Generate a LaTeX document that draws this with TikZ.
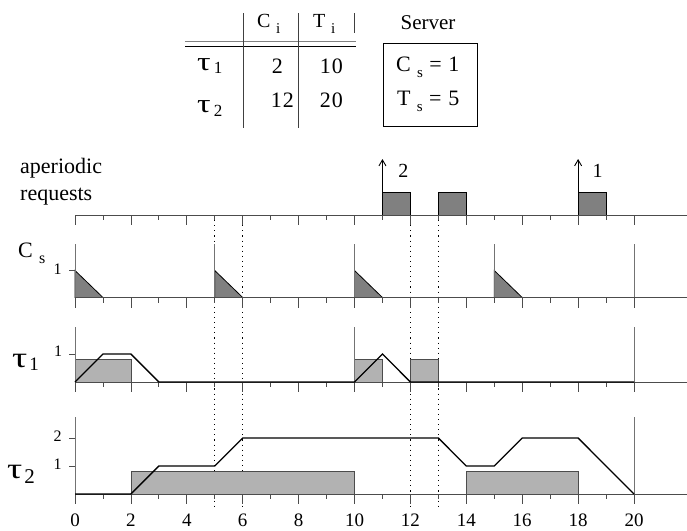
\documentclass[tikz,border=0pt]{standalone}
\usepackage{fontspec}
\setmainfont{Liberation Serif}
\usetikzlibrary{arrows.meta}
\newcommand\sbx[2][14]{\hspace{0.28em}\raisebox{-0.3em}{\fontsize{#1}{#1}\selectfont #2}}
\newcommand\tauglyph{\scalebox{1.3}[1]{τ}}
\newcommand\tlaxis{%
  \draw[axisline] (0,0) -- (21.9,0);
  \foreach \t in {0,2,...,20} {\draw[axisline] (\t,0) -- ++(0,-10pt);}
  \foreach \t in {1,3,...,19} {\draw[axisline] (\t,0) -- ++(0,-5pt);}
}
\begin{document}
\begin{tikzpicture}[x=1pt,y=-1pt,
  axisline/.style={draw=black!70, line width=0.8pt},
  gridv/.style={draw=black!55, line width=0.9pt},
  dotv/.style={draw=black, line width=0.9pt, dash pattern=on 1.1pt off 4pt},
  tbl/.style={draw=black!75, line width=0.8pt},
  txt/.style={inner sep=0pt, font=\fontsize{22}{24}\selectfont},
  hdr/.style={inner sep=0pt, font=\fontsize{20}{22}\selectfont},
  dig/.style={inner sep=0pt, font=\fontsize{22}{24}\selectfont},
  num/.style={inner sep=0pt, font=\fontsize{19}{20}\selectfont},
  ticklbl/.style={inner sep=0pt, font=\fontsize{16}{17}\selectfont},
  taulbl/.style={inner sep=0pt, font=\fontsize{29}{30}\selectfont},
  tautab/.style={inner sep=0pt, font=\fontsize{26}{27}\selectfont},
  curve/.style={draw=black, line width=1.3pt, line join=miter},
  lightbox/.style={fill=black!30, draw=black!70, line width=0.7pt},
  darkbox/.style={fill=black!50, draw=black, line width=0.8pt},
  reqarrow/.style={draw=black, line width=0.9pt, -{Straight Barb[length=6pt,width=7pt]}}]
\useasboundingbox (0,0) rectangle (687,530);
\fill[white] (0,0) rectangle (687,530);

% ---------------- table ----------------
\draw[black!50, line width=0.7pt] (185,41.7) -- (356,41.7);
\draw[black, line width=1pt] (185,46.7) -- (356,46.7);
\draw[tbl] (243,13) -- (243,128);
\draw[tbl] (298,13) -- (298,128);
\draw[tbl] (354,13) -- (354,33);
\node[hdr, anchor=base west] (hc) at (257,27) {C\sbx[15]{i}};
\node[hdr, anchor=base west] (ht) at (313,27) {T\sbx[15]{i}};
\node[tautab, anchor=base west] (r1) at (197,70) {\tauglyph\hspace{3pt}\raisebox{-3pt}{\fontsize{17}{17}\selectfont 1}};
\node[tautab, anchor=base west] (r2) at (197,112) {\tauglyph\hspace{3pt}\raisebox{-4pt}{\fontsize{17}{17}\selectfont 2}};
\node[dig, anchor=base east] (c1) at (283,73) {2};
\node[dig, anchor=base east] (t1) at (343,73) {1\hspace{1pt}0};
\node[dig, anchor=base east] (c2) at (294,107) {1\hspace{1pt}2};
\node[dig, anchor=base east] (t2) at (343,107) {2\hspace{1pt}0};

% ---------------- server ----------------
\node[hdr, font=\fontsize{21}{22}\selectfont] (srv) at (428,23) {Server};
\draw[black, line width=1pt] (383,43.3) rectangle (477,126.7);
\node[txt, anchor=base west] (cs) at (396,71) {C\sbx[15]{s}\hspace{0.3em}=\hspace{0.3em}1};
\node[txt, anchor=base west] (ts) at (397,105) {T\sbx[15]{s}\hspace{0.3em}=\hspace{0.3em}5};

% ---------------- left labels ----------------
\node[txt, anchor=west] (lap) at (20,168) {aperiodic};
\node[txt, anchor=west] (lrq) at (20,197) {requests};
\node[txt, anchor=base west] (lcs) at (18,257) {C\sbx[16]{s}};
\node[taulbl, anchor=base west] (lt1) at (12,367) {\tauglyph\hspace{2pt}\raisebox{-3pt}{\fontsize{19}{19}\selectfont 1}};
\node[taulbl, anchor=base west] (lt2) at (7,478) {\tauglyph\hspace{2pt}\raisebox{-5pt}{\fontsize{21}{21}\selectfont 2}};

% ---------------- dotted verticals ----------------
\foreach \t in {5,6,12,13} {\draw[dotv] (75+27.95*\t,215) -- (75+27.95*\t,506);}

% ---------------- aperiodic requests ----------------
\begin{scope}[shift={(75,215)}, x=27.95pt, y=28pt]
  \draw[darkbox] (11,0) rectangle (12,0.8);
  \draw[darkbox] (13,0) rectangle (14,0.8);
  \draw[darkbox] (18,0) rectangle (19,0.8);
  \tlaxis
  \coordinate (a2s) at (11,0); \coordinate (a2e) at (11,2);
  \coordinate (a1s) at (18,0); \coordinate (a1e) at (18,2);
  \draw[reqarrow] (a2s) -- (a2e);
  \draw[reqarrow] (a1s) -- (a1e);
  \node[txt, font=\fontsize{20}{22}\selectfont] (n2) at (11.75,1.57) {2};
  \node[txt, font=\fontsize{20}{22}\selectfont] (n1) at (18.7,1.57) {1};
\end{scope}

% ---------------- server capacity ----------------
\begin{scope}[shift={(75,297.5)}, x=27.95pt, y=27pt]
  \foreach \t in {0,5,10,15} {\draw[darkbox] (\t,0) -- (\t,1) -- (\t+1,0) -- cycle;}
  \foreach \t in {0,5,10,15,20} {\draw[gridv] (\t,0) -- (\t,2);}
  \tlaxis
  \draw[axisline] (-0.2,1) -- (0,1);
  \node[ticklbl] (cs1) at (-0.62,1.05) {1};
\end{scope}

% ---------------- tau 1 ----------------
\begin{scope}[shift={(75,382)}, x=27.95pt, y=28pt]
  \draw[lightbox] (0,0) rectangle (2,0.8);
  \draw[lightbox] (10,0) rectangle (11,0.8);
  \draw[lightbox] (12,0) rectangle (13,0.8);
  \foreach \t in {0,10,20} {\draw[gridv] (\t,0) -- (\t,1.96);}
  \tlaxis
  \draw[curve] (0,0) -- (1,1) -- (2,1) -- (3,0) -- (10,0) -- (11,1) -- (12,0) -- (20,0);
  \draw[axisline] (-0.2,1) -- (0,1);
  \node[ticklbl] (t11) at (-0.6,1.1) {1};
\end{scope}

% ---------------- tau 2 ----------------
\begin{scope}[shift={(75,494)}, x=27.95pt, y=28pt]
  \draw[lightbox] (2,0) rectangle (10,0.8);
  \draw[lightbox] (14,0) rectangle (18,0.8);
  \foreach \t in {0,20} {\draw[gridv] (\t,0) -- (\t,2.75);}
  \tlaxis
  \draw[curve] (0,0) -- (2,0) -- (3,1) -- (5,1) -- (6,2) -- (13,2) -- (14,1) -- (15,1) -- (16,2) -- (18,2) -- (20,0);
  \draw[axisline] (-0.2,1) -- (0,1);
  \draw[axisline] (-0.2,2) -- (0,2);
  \node[ticklbl] (t21) at (-0.62,1.05) {1};
  \node[ticklbl] (t22) at (-0.62,2.05) {2};
  \foreach \t in {0,2,...,20} {\node[num] (b\t) at (\t,-0.93) {\t};}
\end{scope}
\end{tikzpicture}
\end{document}
